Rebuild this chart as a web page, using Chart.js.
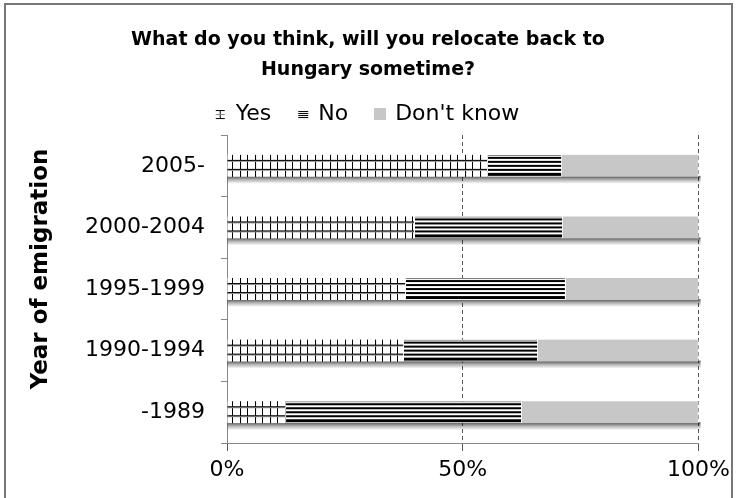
<!DOCTYPE html>
<html>
<head>
<meta charset="utf-8">
<script src="https://cdn.jsdelivr.net/npm/chart.js@4/dist/chart.umd.min.js"></script>
<style>
  html, body { margin: 0; padding: 0; background: #fff; }
  #wrap { width: 736px; height: 498px; position: relative; }
</style>
</head>
<body>
<div id="wrap"><canvas id="chart"></canvas></div>
<script>
// Survey: relocation intent by year of emigration (shares, %)
const categories = ['2005-', '2000-2004', '1995-1999', '1990-1994', '-1989'];
const yesShare = [55.3, 39.8, 37.9, 37.5, 12.5];
const noShare = [15.7, 31.4, 33.9, 28.4, 50.0];
const dontKnowShare = [29.0, 28.8, 28.2, 34.1, 37.5];
const seriesLabels = ['Yes', 'No', "Don't know"];
const xTicks = [0, 50, 100];

const FONT = "'DejaVu Sans', Verdana, sans-serif";
const BAR_H = 22;
const GREY = '#c7c7c7';

function tile(w, h, draw) {
  const c = document.createElement('canvas');
  c.width = w;
  c.height = h;
  draw(c.getContext('2d'), w, h);
  return c;
}

// "Yes" – small grid hatch
const yesTile = tile(15, BAR_H, (g, w, h) => {
  g.fillStyle = '#fff';
  g.fillRect(0, 0, w, h);
  g.fillStyle = '#000';
  g.fillRect(0, 0, 1, h);
  g.fillRect(7, 0, 1, h);
  g.fillRect(0, 5, w, 1);
  g.fillRect(0, 14, w, 1);
  g.fillStyle = '#999';
  g.fillRect(0, 6, w, 1);
  g.fillRect(0, 15, w, 1);
});

// "No" – heavy horizontal stripes
const noTile = tile(4, BAR_H, (g, w, h) => {
  g.fillStyle = '#fff';
  g.fillRect(0, 0, w, h);
  g.fillStyle = '#777';
  g.fillRect(0, 0, w, 1);
  g.fillStyle = '#000';
  for (const r of [2, 6, 10, 14]) g.fillRect(0, r, w, 2);
  g.fillRect(0, 18, w, 3);
});

// pattern is re-anchored to each bar's top edge so every bar looks the same
function patternFor(ctx, src) {
  const y = ctx.chart.scales.y;
  const p = ctx.chart.ctx.createPattern(src, 'repeat');
  if (y && ctx.dataIndex != null) {
    const top = y.getPixelForValue(ctx.dataIndex) - BAR_H / 2;
    p.setTransform(new DOMMatrix().translate(0, top));
  }
  return p;
}

const legendIcons = [
  tile(12, 12, (g) => {
    g.fillStyle = '#000';
    g.fillRect(1, 2, 9, 1);
    g.fillRect(5, 2, 1, 9);
    g.fillRect(1, 10, 9, 1);
    g.fillStyle = '#888';
    g.fillRect(1, 6, 9, 1);
  }),
  tile(12, 12, (g) => {
    g.fillStyle = '#000';
    for (const r of [3, 5, 7, 9]) g.fillRect(1, r, 10, 1);
  }),
  tile(12, 12, (g) => {
    g.fillStyle = GREY;
    g.fillRect(0, 0, 12, 12);
  }),
];

const barShadow = {
  id: 'barShadow',
  beforeDatasetsDraw(chart) {
    const c = chart.ctx;
    const first = chart.getDatasetMeta(0).data;
    const last = chart.getDatasetMeta(chart.data.datasets.length - 1).data;
    c.save();
    first.forEach((bar, i) => {
      const { base, y, height } = bar.getProps(['base', 'y', 'height'], true);
      const end = last[i].x;
      const bottom = y + height / 2;
      const grad = c.createLinearGradient(0, bottom, 0, bottom + 7);
      grad.addColorStop(0, 'rgba(0,0,0,0.6)');
      grad.addColorStop(0.4, 'rgba(0,0,0,0.3)');
      grad.addColorStop(1, 'rgba(0,0,0,0)');
      c.fillStyle = grad;
      c.fillRect(base, bottom - 1, end - base + 2, 8);
    });
    c.restore();
  },
};

const frame = {
  id: 'frame',
  beforeDraw(chart) {
    const c = chart.ctx;
    c.save();
    c.fillStyle = '#fff';
    c.fillRect(0, 0, chart.width, chart.height);
    c.restore();
  },
  afterDraw(chart) {
    const c = chart.ctx;
    c.save();
    c.strokeStyle = '#777';
    c.lineWidth = 2;
    c.strokeRect(5, 4, 727, 520);
    c.restore();
  },
};

function ds(label, data, bg) {
  return {
    label,
    data,
    backgroundColor: bg,
    borderColor: '#fff',
    borderWidth: { top: 0, bottom: 0, left: 0, right: 1 },
    borderSkipped: false,
    barThickness: BAR_H,
  };
}

new Chart(document.getElementById('chart'), {
  type: 'bar',
  data: {
    labels: categories,
    datasets: [
      ds(seriesLabels[0], yesShare, (ctx) => patternFor(ctx, yesTile)),
      ds(seriesLabels[1], noShare, (ctx) => patternFor(ctx, noTile)),
      ds(seriesLabels[2], dontKnowShare, GREY),
    ],
  },
  options: {
    indexAxis: 'y',
    responsive: true,
    maintainAspectRatio: false,
    animation: false,
    layout: { padding: { top: 25, right: 37, bottom: 0, left: 37 } },
    plugins: {
      tooltip: { enabled: false },
      title: {
        display: true,
        text: ['What do you think, will you relocate back to', 'Hungary sometime?'],
        color: '#000',
        font: { family: FONT, size: 19, weight: 'bold', lineHeight: 1.58 },
        padding: { top: 0, bottom: -10 },
      },
      legend: {
        position: 'top',
        labels: {
          usePointStyle: true,
          boxWidth: 8,
          boxHeight: 12,
          padding: 28,
          color: '#000',
          font: { family: FONT, size: 22 },
          generateLabels: (chart) =>
            chart.data.datasets.map((d, i) => ({
              text: d.label,
              pointStyle: legendIcons[i],
              fillStyle: GREY,
              strokeStyle: 'transparent',
              lineWidth: 0,
              hidden: false,
              datasetIndex: i,
            })),
        },
      },
    },
    scales: {
      x: {
        stacked: true,
        min: 0,
        max: 100,
        afterBuildTicks: (s) => { s.ticks = xTicks.map((v) => ({ value: v })); },
        afterFit: (s) => { s.height = 55; },
        ticks: {
          color: '#000',
          font: { family: FONT, size: 22 },
          padding: 6,
          maxRotation: 0,
          callback: (v) => v + '%',
        },
        grid: {
          color: '#555',
          lineWidth: 1,
          tickLength: 8,
        },
        border: { color: '#888', width: 1, dash: [4, 3] },
      },
      y: {
        stacked: true,
        afterFit: (s) => { s.width = 190; },
        ticks: {
          color: '#000',
          font: { family: FONT, size: 22 },
          padding: 16,
        },
        grid: {
          drawOnChartArea: false,
          color: '#888',
          tickLength: 6,
        },
        border: { color: '#888', width: 1 },
        title: {
          display: true,
          // leading spaces lift the rotated title the way the original sits
          text: '     Year of emigration',
          color: '#000',
          font: { family: FONT, size: 23, weight: 'bold' },
          padding: { top: -10, bottom: 0 },
        },
      },
    },
  },
  plugins: [barShadow, frame],
});
</script>
</body>
</html>
